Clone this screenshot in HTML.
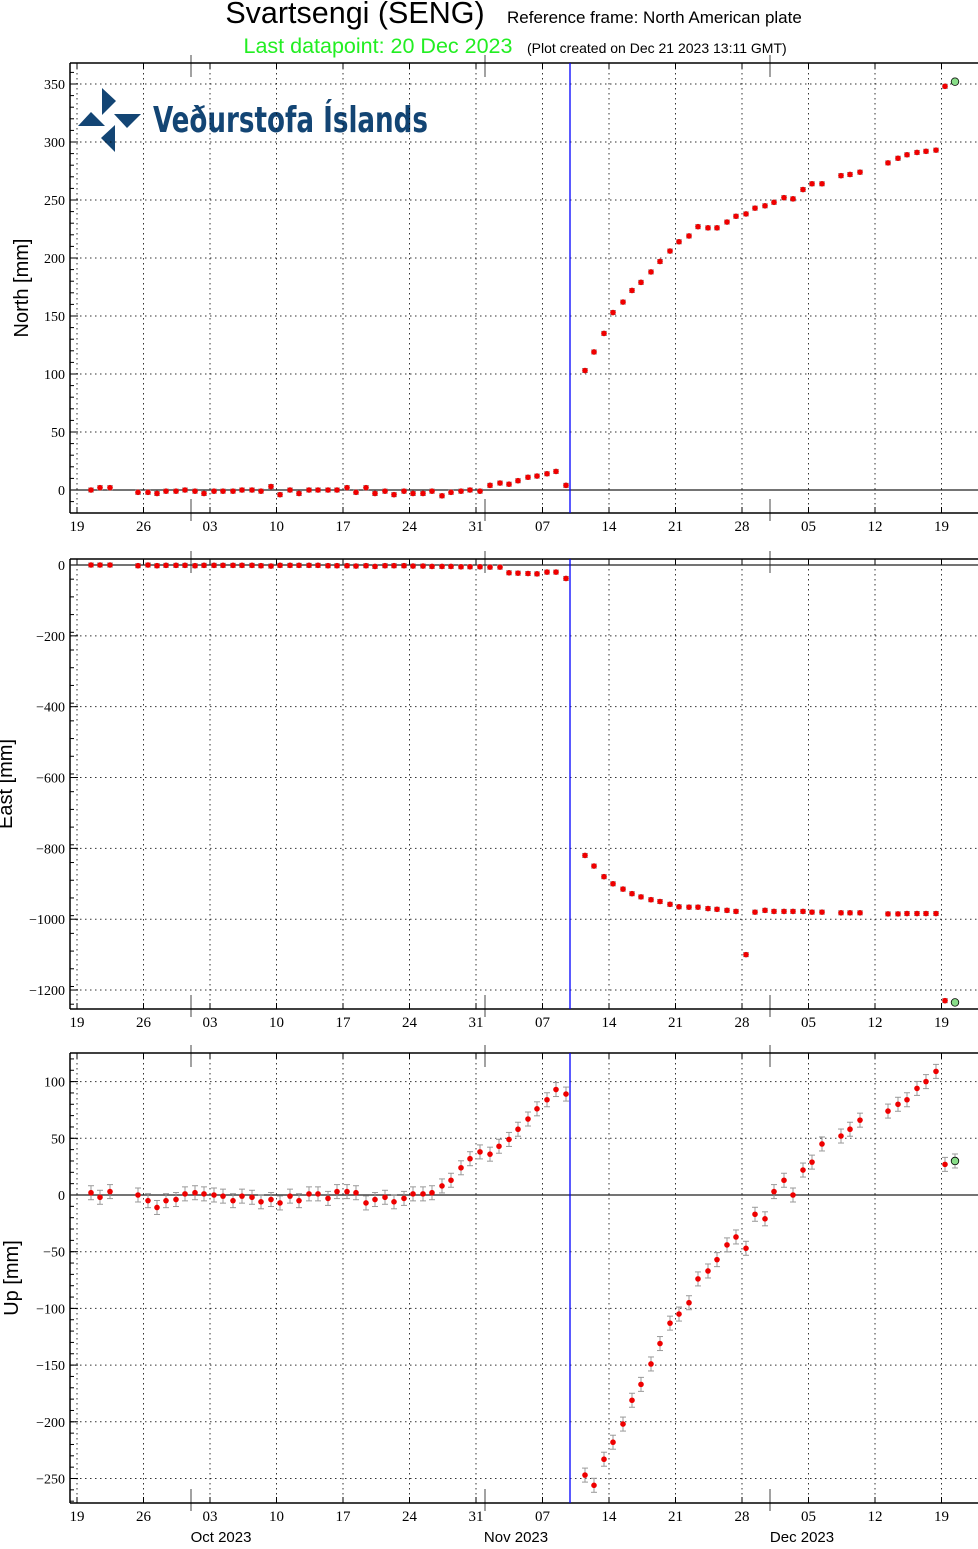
<!DOCTYPE html>
<html><head><meta charset="utf-8"><style>
html,body{margin:0;padding:0;background:#fff;}
svg text{font-family:"Liberation Serif",serif;}
</style></head><body>
<svg id="s" width="978" height="1544" xmlns="http://www.w3.org/2000/svg">
<text x="355" y="23" font-size="30.5" text-anchor="middle" style="font-family:'Liberation Sans',sans-serif">Svartsengi (SENG)</text>
<text x="507" y="23" font-size="17" style="font-family:'Liberation Sans',sans-serif">Reference frame: North American plate</text>
<text x="378" y="53" font-size="21.5" text-anchor="middle" fill="#22ee22" style="font-family:'Liberation Sans',sans-serif">Last datapoint: 20 Dec 2023</text>
<text x="527" y="53" font-size="14" style="font-family:'Liberation Sans',sans-serif">(Plot created on Dec 21 2023 13:11 GMT)</text>
<g fill="#134574">
<polygon points="102,88 102,115 116,101"/>
<polygon points="78,126 105,126 91,112"/>
<polygon points="114,114 141,114 127,128"/>
<polygon points="115,125 115,152 101,138"/>
<text x="153" y="132" font-size="36" font-weight="bold" textLength="275" lengthAdjust="spacingAndGlyphs" style="font-family:'DejaVu Sans Condensed','DejaVu Sans',sans-serif">Veðurstofa Íslands</text>
</g>
<g id="g"></g>
</svg>
<script>
const NS="http://www.w3.org/2000/svg",G=document.getElementById('g');
function el(t,a,txt){const e=document.createElementNS(NS,t);for(const k in a)e.setAttribute(k,a[k]);if(txt!==undefined)e.textContent=txt;G.appendChild(e);return e;}
const X0=70,X1=978;
const dates=["19","26","03","10","17","24","31","07","14","21","28","05","12","19"];
function panel(top,bot,yv,ticks,minor,label,ly,data,err,zeroY){
  for(let i=0;i<dates.length;i++){const x=77+i*66.5;el('line',{x1:x,x2:x,y1:top,y2:bot,stroke:'#000','stroke-width':1,'stroke-dasharray':'1.5,3.5',opacity:.8});
    el('line',{x1:x,x2:x,y1:top,y2:top+6,stroke:'#000'});el('line',{x1:x,x2:x,y1:bot,y2:bot-6,stroke:'#000'});
    el('text',{x:x,y:bot+18,'font-size':15,'text-anchor':'middle'},dates[i]);}
  for(const m of [191,485,770]){el('line',{x1:m,x2:m,y1:top-8,y2:top+14,stroke:'#444'});el('line',{x1:m,x2:m,y1:bot-14,y2:bot+8,stroke:'#444'});}
  for(const t of ticks){const y=yv(t);el('line',{x1:X0,x2:X1,y1:y,y2:y,stroke:'#000','stroke-dasharray':'1.5,3.5',opacity:.8});
    el('line',{x1:X0,x2:X0+8,y1:y,y2:y,stroke:'#000'});
    el('text',{x:X0-5,y:y+5,'font-size':14,'text-anchor':'end'},t<0?'\u2212'+(-t):t);}
  for(const t of minor){const y=yv(t);if(y>top&&y<bot)el('line',{x1:X0,x2:X0+4,y1:y,y2:y,stroke:'#000'});}
  el('line',{x1:X0,x2:X1,y1:top,y2:top,stroke:'#000','stroke-width':1.5});
  el('line',{x1:X0,x2:X1,y1:bot,y2:bot,stroke:'#000','stroke-width':1.5});
  el('line',{x1:X0,x2:X0,y1:top,y2:bot,stroke:'#000','stroke-width':1.5});
  el('line',{x1:X0,x2:X1,y1:zeroY,y2:zeroY,stroke:'#222','stroke-width':1.3});
  el('line',{x1:570,x2:570,y1:top,y2:bot,stroke:'#0000ff','stroke-width':1.3});
  el('text',{x:0,y:0,'font-size':20,'text-anchor':'middle',transform:`translate(${ly},${(top+bot)/2}) rotate(-90)`,style:"font-family:'Liberation Sans',sans-serif"},label);
  data.forEach((p,i)=>{const y=yv(p[1]);const e=err;
    el('line',{x1:p[0],x2:p[0],y1:y-e,y2:y+e,stroke:'#999'});
    el('line',{x1:p[0]-3,x2:p[0]+3,y1:y-e,y2:y-e,stroke:'#999'});el('line',{x1:p[0]-3,x2:p[0]+3,y1:y+e,y2:y+e,stroke:'#999'});
    const last=i==data.length-1;
    el('circle',{cx:p[0],cy:y,r:last?3.8:2.8,fill:last?'#88dd88':'#ee0000',stroke:last?'#000':'none','stroke-width':.8});});
}
const pre=[91,100,110,138,148,157,166,176,185,195,204,214,223,233,242,252,261,271,280,290,299,309,318,328,337,347,356,366,375,385,394,404,413,423,432,442,451,461,470,480];
const nPre=[0,2,2,-2,-2,-3,-1,-1,0,-1,-3,-1,-1,-1,0,0,-1,3,-4,0,-3,0,0,0,0,2,-2,2,-3,-1,-4,-1,-3,-3,-1,-5,-2,-1,0,-1];
const n=pre.map((x,i)=>[x,nPre[i]]).concat([[490,4],[500,6],[509,5],[518,8],[528,11],[537,12],[547,14],[556,16],[566,4],[585,103],[594,119],[604,135],[613,153],[623,162],[632,172],[641,179],[651,188],[660,197],[670,206],[679,214],[689,219],[698,227],[708,226],[717,226],[727,231],[736,236],[746,238],[755,243],[765,245],[774,248],[784,252],[793,251],[803,259],[812,264],[822,264],[841,271],[850,272],[860,274],[888,282],[898,286],[907,289],[917,291],[926,292],[936,293],[945,348],[955,352]]);
const ePre=[0,0,0,-2,0,-2,-1,-1,-1,-2,-1,-1,-1,-1,-1,-1,-2,-3,-1,-1,-1,-1,-1,-2,-2,-2,-3,-2,-4,-2,-2,-2,-3,-3,-4,-4,-4,-5,-5,-5];
const e=pre.map((x,i)=>[x,ePre[i]]).concat([[490,-6],[500,-6],[509,-22],[518,-23],[528,-24],[537,-25],[547,-20],[556,-20],[566,-38],[585,-820],[594,-850],[604,-880],[613,-900],[623,-915],[632,-928],[641,-937],[651,-945],[660,-950],[670,-958],[679,-965],[689,-966],[698,-966],[708,-970],[717,-972],[727,-975],[736,-978],[746,-1100],[755,-980],[765,-975],[774,-978],[784,-978],[793,-978],[803,-978],[812,-980],[822,-980],[841,-982],[850,-982],[860,-982],[888,-985],[898,-985],[907,-984],[917,-984],[926,-984],[936,-984],[945,-1230],[955,-1235]]);
const u=[[91,2],[100,-2],[110,3],[138,0],[148,-5],[157,-11],[166,-5],[176,-4],[185,1],[195,2],[204,1],[214,0],[223,-1],[233,-5],[242,-1],[252,-2],[261,-6],[271,-4],[280,-7],[290,-1],[299,-5],[309,1],[318,1],[328,-3],[337,3],[347,3],[356,2],[366,-7],[375,-4],[385,-2],[394,-6],[404,-3],[413,1],[423,1],[432,2],[442,8],[451,13],[461,24],[470,32],[480,38],[490,36],[499,43],[509,49],[518,58],[528,67],[537,76],[547,84],[556,93],[566,89],[585,-247],[594,-256],[604,-233],[613,-218],[623,-202],[632,-181],[641,-167],[651,-149],[660,-131],[670,-113],[679,-105],[689,-95],[698,-74],[708,-67],[717,-57],[727,-44],[736,-37],[746,-47],[755,-17],[765,-21],[774,3],[784,13],[793,0],[803,22],[812,29],[822,45],[841,52],[850,58],[860,66],[888,74],[898,80],[907,84],[917,94],[926,100],[936,109],[945,27],[955,30]];
function rng(a,b,s){const r=[];for(let v=a;v<=b;v+=s)r.push(v);return r;}
panel(63,513,v=>490-v*1.16,[0,50,100,150,200,250,300,350],rng(-10,360,10),'North [mm]',28,n,2,490);
panel(559,1009,v=>565-v*0.3542,[0,-200,-400,-600,-800,-1000,-1200],rng(-1240,0,50),'East [mm]',12,e,2,565);
panel(1053,1503,v=>1195-v*1.134,[100,50,0,-50,-100,-150,-200,-250],rng(-270,120,10),'Up [mm]',18,u,7,1195);
const mt=[[221,'Oct 2023'],[516,'Nov 2023'],[802,'Dec 2023']];
for(const m of mt)el('text',{x:m[0],y:1542,'font-size':15,'text-anchor':'middle',style:"font-family:'Liberation Sans',sans-serif"},m[1]);
</script>
</body></html>
